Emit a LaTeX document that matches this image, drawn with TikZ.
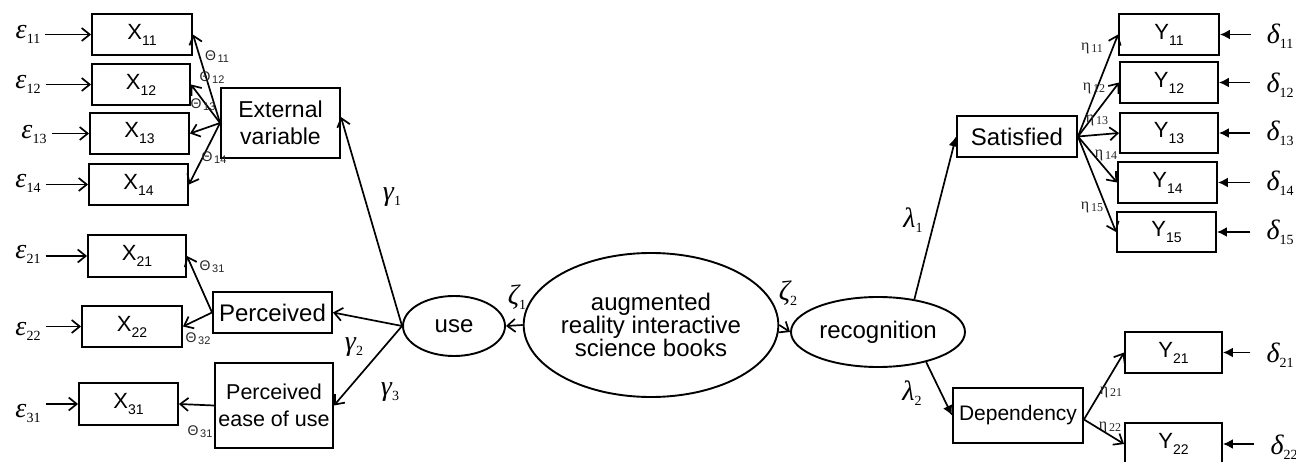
\documentclass[tikz,border=0pt]{standalone}
\usepackage{fontspec}
\setmainfont{Liberation Sans}
\newfontfamily\tnr{Liberation Serif}
\usetikzlibrary{shapes.geometric,arrows.meta}
\newcommand\gl[2]{{\tnr\fontsize{28}{28}\selectfont\itshape #1}\raisebox{-5pt}{\tnr\fontsize{14}{14}\selectfont #2}}
\newcommand\bl[2]{#1\raisebox{-6pt}{\fontsize{14}{14}\selectfont #2}}
\newcommand\tl[2]{{\fontsize{14}{14}\selectfont #1}\,\raisebox{-2pt}{\fontsize{11}{11}\selectfont #2}}
\newcommand\el[2]{{\tnr\fontsize{16}{16}\selectfont #1}\,\raisebox{-2pt}{\tnr\fontsize{12}{12}\selectfont #2}}
\begin{document}
\begin{tikzpicture}[x=1pt,y=-1pt,
  box/.style={draw,line width=1.9pt,inner sep=0pt,align=center,font=\fontsize{22}{24}\selectfont},
  ell/.style={draw,ellipse,line width=1.9pt,inner sep=0pt,align=center,font=\fontsize{24}{23}\selectfont},
  oarr/.style={line width=1.7pt,-{Straight Barb[length=8pt,width=13pt,line width=1.7pt]}},
  farr/.style={line width=1.7pt,-{Latex[length=10pt,width=10pt]}},
  lab/.style={inner sep=0pt},
  slab/.style={inner sep=0pt,text=black!85},
]
\useasboundingbox (0,0) rectangle (1296,462);
\fill[white] (0,0) rectangle (1296,462);

% left measurement boxes
\node[box,minimum width=100pt,minimum height=41pt] (X11) at (142,34.5) {\bl{X}{11}};
\node[box,minimum width=98pt,minimum height=41pt] (X12) at (141,84.5) {\bl{X}{12}};
\node[box,minimum width=99pt,minimum height=41pt] (X13) at (139.5,133.5) {\bl{X}{13}};
\node[box,minimum width=99pt,minimum height=41pt] (X14) at (138.5,184.5) {\bl{X}{14}};
\node[box,minimum width=98pt,minimum height=42pt] (X21) at (137,256) {\bl{X}{21}};
\node[box,minimum width=100pt,minimum height=41pt] (X22) at (132,326.5) {\bl{X}{22}};
\node[box,minimum width=99pt,minimum height=42pt] (X31) at (128.5,404) {\bl{X}{31}};

% left latent boxes
\node[box,minimum width=119pt,minimum height=70pt,font=\fontsize{23}{27}\selectfont] (EV) at (280.5,123) {External\\variable};
\node[box,minimum width=119pt,minimum height=41pt,font=\fontsize{24}{26}\selectfont] (PC) at (272.5,312.5) {Perceived};
\node[box,minimum width=118pt,minimum height=85pt,font=\fontsize{21.5}{27}\selectfont] (PE) at (274,405.5) {Perceived\\ease of use};

% ellipses
\node[ell,minimum width=102pt,minimum height=60pt] (use) at (454,326) {use};
\node[ell,minimum width=234pt,minimum height=144pt] (AR) at (651,325) {augmented\\reality interactive\\science books};
\node[ell,minimum width=174pt,minimum height=70pt] (RC) at (878,332) {recognition};

% right boxes
\node[box,minimum width=120pt,minimum height=41pt,font=\fontsize{24}{26}\selectfont] (SA) at (1017,136.5) {Satisfied};
\node[box,minimum width=130pt,minimum height=55pt,font=\fontsize{21}{24}\selectfont] (DE) at (1018,415.5) {Dependency};
\node[box,minimum width=100pt,minimum height=41pt] (Y11) at (1169,34.5) {\bl{Y}{11}};
\node[box,minimum width=98pt,minimum height=41pt] (Y12) at (1169,82.5) {\bl{Y}{12}};
\node[box,minimum width=98pt,minimum height=40pt] (Y13) at (1169,133) {\bl{Y}{13}};
\node[box,minimum width=99pt,minimum height=41pt] (Y14) at (1167.5,182.5) {\bl{Y}{14}};
\node[box,minimum width=99pt,minimum height=40pt] (Y15) at (1166.5,232) {\bl{Y}{15}};
\node[box,minimum width=97pt,minimum height=41pt] (Y21) at (1173.5,352.5) {\bl{Y}{21}};
\node[box,minimum width=97pt,minimum height=42pt] (Y22) at (1173.5,444) {\bl{Y}{22}};

% error labels left
\node[lab] (e11) at (28,34) {\gl{ε}{11}};
\node[lab] (e12) at (28,84) {\gl{ε}{12}};
\node[lab] (e13) at (34,134) {\gl{ε}{13}};
\node[lab] (e14) at (28,183) {\gl{ε}{14}};
\node[lab] (e21) at (28,254) {\gl{ε}{21}};
\node[lab] (e22) at (28,331) {\gl{ε}{22}};
\node[lab] (e31) at (28,413) {\gl{ε}{31}};
\foreach \e/\b in {e11/X11,e12/X12,e13/X13,e14/X14,e21/X21,e22/X22,e31/X31}
  \draw[oarr,shorten <=5pt] (\e.east |- \b.west) -- (\b.west);

% error labels right
\node[lab] (d11) at (1280,36) {\gl{δ}{11}};
\node[lab] (d12) at (1280,85) {\gl{δ}{12}};
\node[lab] (d13) at (1280,133) {\gl{δ}{13}};
\node[lab] (d14) at (1280,183) {\gl{δ}{14}};
\node[lab] (d15) at (1280,232) {\gl{δ}{15}};
\node[lab] (d21) at (1280,355) {\gl{δ}{21}};
\node[lab] (d22) at (1284,447) {\gl{δ}{22}};
\foreach \d/\b in {d11/Y11,d12/Y12,d13/Y13,d14/Y14,d15/Y15,d21/Y21,d22/Y22}
  \draw[farr,shorten <=16pt] (\d.west |- \b.east) -- (\b.east);

% loadings left
\foreach \b in {X11,X12,X13,X14} \draw[oarr] (EV.west) -- (\b.east);
\draw[oarr] (PC.west) -- (X21.east);
\draw[oarr] (PC.west) -- (X22.east);
\draw[oarr] (PE.west) -- (X31.east);
\node[slab] (t11) at (217,57) {\tl{Θ}{11}};
\node[slab] (t12) at (212,78) {\tl{Θ}{12}};
\node[slab] (t13) at (203,105) {\tl{Θ}{13}};
\node[slab] (t14) at (214,158) {\tl{Θ}{14}};
\node[slab] (t21) at (212,267) {\tl{Θ}{31}};
\node[slab] (t22) at (198,339) {\tl{Θ}{32}};
\node[slab] (t31) at (200,432) {\tl{Θ}{31}};

% structural paths
\draw[oarr] (use.west) -- ([yshift=6pt]EV.east);
\draw[oarr] (use.west) -- (PC.east);
\draw[oarr] (use.west) -- (PE.east);
\draw[oarr] (AR.west) -- (use.east);
\draw[oarr] (AR.east) -- (RC.west);
\draw[farr] (RC.42) -- (SA.west);
\draw[farr] (RC.-32) -- (DE.west);
\node[lab] (g1) at (392,197) {\gl{γ}{1}};
\node[lab] (g2) at (354,347) {\gl{γ}{2}};
\node[lab] (g3) at (390,392) {\gl{γ}{3}};
\node[lab] (z1) at (517,297) {\gl{ζ}{1}};
\node[lab] (z2) at (788,293) {\gl{ζ}{2}};
\node[lab] (l1) at (913,220) {\gl{λ}{1}};
\node[lab] (l2) at (912,393) {\gl{λ}{2}};

% loadings right
\foreach \b in {Y11,Y12,Y13,Y14,Y15} \draw[oarr] (SA.east) -- (\b.west);
\draw[oarr] ([yshift=-4pt]DE.east) -- (Y21.west);
\draw[oarr] ([yshift=-4pt]DE.east) -- (Y22.west);
\node[slab] (n11) at (1092,48) {\el{η}{11}};
\node[slab] (n12) at (1094,88) {\el{η}{12}};
\node[slab] (n13) at (1097,120) {\el{η}{13}};
\node[slab] (n14) at (1106,155) {\el{η}{14}};
\node[slab] (n15) at (1092,207) {\el{η}{15}};
\node[slab] (n21) at (1111,392) {\el{η}{21}};
\node[slab] (n22) at (1110,427) {\el{η}{22}};
\end{tikzpicture}
\end{document}
